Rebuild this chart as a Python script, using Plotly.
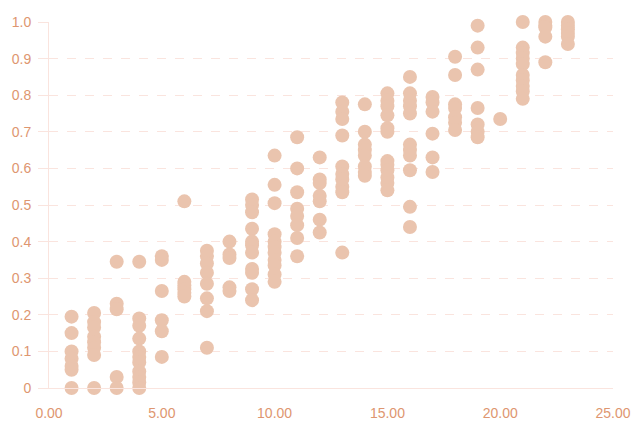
import plotly.graph_objects as go

# valeurs, une liste par colonne x
x_values = list(range(1, 24))
y_by_x = [
    [0.195, 0.15, 0.1, 0.08, 0.06, 0.05, 0.0],
    [0.205, 0.18, 0.165, 0.14, 0.125, 0.11, 0.09, 0.0],
    [0.345, 0.23, 0.215, 0.03, 0.0],
    [0.345, 0.19, 0.17, 0.135, 0.1, 0.085, 0.07, 0.045, 0.03, 0.015, 0.0],
    [0.36, 0.35, 0.265, 0.185, 0.155, 0.085],
    [0.51, 0.29, 0.28, 0.27, 0.26, 0.25],
    [0.375, 0.36, 0.34, 0.315, 0.285, 0.245, 0.21, 0.11],
    [0.4, 0.365, 0.355, 0.275, 0.265],
    [0.515, 0.5, 0.48, 0.435, 0.4, 0.39, 0.37, 0.325, 0.315, 0.27, 0.24],
    [0.635, 0.555, 0.505, 0.42, 0.4, 0.385, 0.37, 0.35, 0.335, 0.31, 0.29],
    [0.685, 0.6, 0.535, 0.49, 0.47, 0.445, 0.41, 0.36],
    [0.63, 0.57, 0.56, 0.525, 0.51, 0.46, 0.425],
    [0.78, 0.755, 0.735, 0.69, 0.605, 0.585, 0.57, 0.55, 0.535, 0.37],
    [0.775, 0.7, 0.665, 0.65, 0.635, 0.605, 0.59, 0.58],
    [0.805, 0.785, 0.77, 0.745, 0.71, 0.7, 0.62, 0.61, 0.595, 0.575, 0.56, 0.54],
    [0.85, 0.805, 0.785, 0.77, 0.75, 0.665, 0.65, 0.635, 0.595, 0.495, 0.44],
    [0.795, 0.78, 0.755, 0.695, 0.63, 0.59],
    [0.905, 0.855, 0.775, 0.765, 0.74, 0.725, 0.705],
    [0.99, 0.93, 0.87, 0.765, 0.72, 0.7, 0.685],
    [0.735],
    [1.0, 0.93, 0.915, 0.9, 0.885, 0.855, 0.84, 0.825, 0.81, 0.79],
    [1.0, 0.99, 0.985, 0.96, 0.89],
    [1.0, 0.99, 0.98, 0.97, 0.96, 0.94],
]
x_ticks = [0, 5, 10, 15, 20, 25]
y_ticks = [0, 0.1, 0.2, 0.3, 0.4, 0.5, 0.6, 0.7, 0.8, 0.9, 1.0]
y_tick_labels = ["0", "0.1", "0.2", "0.3", "0.4", "0.5", "0.6", "0.7", "0.8", "0.9", "1.0"]

xs = []
ys = []
for x, col in zip(x_values, y_by_x):
    for y in col:
        xs.append(x)
        ys.append(y)

fig = go.Figure()

fig.add_trace(go.Scatter(
    x=xs,
    y=ys,
    mode="markers",
    marker={'size': 14, 'color': 'rgb(234,196,174)'},
    cliponaxis=False,
    showlegend=False
))

label_color = 'rgb(222,150,112)'
grid_color = 'rgb(250,228,222)'

fig.update_xaxes(
    range=[0, 25],
    tickvals=x_ticks,
    tickformat=".2f",
    showgrid=False,
    zeroline=False,
    showline=True,
    linecolor=grid_color,
    linewidth=1,
    ticks="",
    ticklabelstandoff=12,
    tickfont={'color': label_color, 'size': 14},
    automargin=False
)

fig.update_yaxes(
    range=[0, 1],
    tickvals=y_ticks,
    ticktext=y_tick_labels,
    showgrid=True,
    gridcolor=grid_color,
    griddash='dash',
    zeroline=False,
    showline=True,
    linecolor=grid_color,
    linewidth=1,
    ticks="outside",
    ticklen=10,
    tickcolor=grid_color,
    ticklabelstandoff=4,
    tickfont={'color': label_color, 'size': 14},
    automargin=False
)

# la page ajoute une marge de 8 px autour du graphique
fig.update_layout(
    width=642,
    height=444,
    margin={'l': 41, 'r': 37, 't': 14, 'b': 64},
    plot_bgcolor='white',
    paper_bgcolor='white',
    font={'family': 'Liberation Sans, Arial, sans-serif'}
)

fig.write_html("out.html")
